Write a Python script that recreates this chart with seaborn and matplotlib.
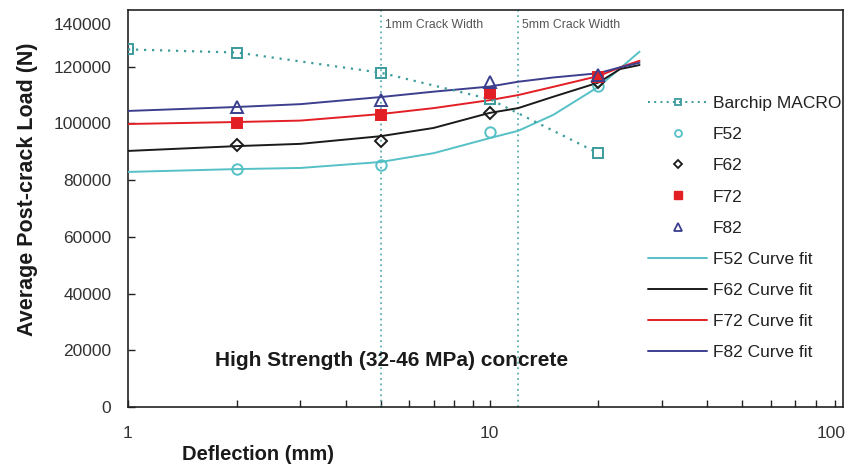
import matplotlib
matplotlib.use("Agg")
import matplotlib.pyplot as plt
from matplotlib.lines import Line2D
from matplotlib.ticker import FixedLocator, NullFormatter
import numpy as np
import seaborn as sns

# ---- data -------------------------------------------------------------
barchip_x = [1, 2, 5, 10, 20]
barchip_y = [126100, 125000, 117900, 108600, 89500]

test_x = [2, 5, 10, 20]
f52_pts = [83800, 85500, 97000, 113200]
f62_pts = [92300, 93900, 103800, 114700]
f72_pts = [100200, 102800, 110600, 116300]
f82_pts = [105700, 108200, 114700, 117000]

fit_x = [1, 2, 3, 5, 7, 10, 12, 15, 20, 23, 26]
f52_fit = [82900, 83900, 84300, 86400, 89500, 94800, 97400, 103000, 112900, 119500, 125300]
f62_fit = [90300, 92000, 92800, 95500, 98400, 103700, 105400, 109400, 114400, 119200, 120600]
f72_fit = [99800, 100500, 101000, 103300, 105400, 108200, 110000, 112900, 116700, 119800, 122100]
f82_fit = [104400, 105800, 106800, 109300, 111200, 113000, 114700, 116200, 117700, 119800, 121400]

crack_x = [5, 12]
crack_labels = ["1mm Crack Width", "5mm Crack Width"]

y_ticks = [0, 20000, 40000, 60000, 80000, 100000, 120000]
x_major = [1, 10]

# ---- style ------------------------------------------------------------
sns.set_style("ticks")
plt.rcParams["font.family"] = ["Liberation Sans", "DejaVu Sans"]

C_BARCHIP = "#3d9c9c"
C_F52 = "#55c0c6"
C_F62 = "#1b1b1b"
C_F72 = "#e31f26"
C_F82 = "#3c3f8e"

fig = plt.figure(figsize=(8.52, 4.67), dpi=100)
ax = fig.add_axes([128 / 852, 60 / 467, 715 / 852, 397 / 467])

# curve fits
for ys, c in [(f52_fit, C_F52), (f62_fit, C_F62), (f72_fit, C_F72), (f82_fit, C_F82)]:
    sns.lineplot(x=fit_x, y=ys, ax=ax, color=c, lw=1.4, sort=False, zorder=3)

# Barchip MACRO reference series
sns.lineplot(x=barchip_x, y=barchip_y, ax=ax, color=C_BARCHIP, lw=1.6,
             linestyle=(0, (1, 2.6)), marker="s", markersize=7,
             markerfacecolor="none", markeredgecolor=C_BARCHIP,
             markeredgewidth=1.4, sort=False, zorder=4)

# measured points
pts = [
    (f52_pts, "o", C_F52, "none", 7.5),
    (f62_pts, "D", C_F62, "none", 6.0),
    (f72_pts, "s", C_F72, C_F72, 6.5),
    (f82_pts, "^", C_F82, "none", 8.0),
]
for ys, m, ec, fc, ms in pts:
    sns.lineplot(x=test_x, y=ys, ax=ax, linestyle="none", marker=m,
                 markersize=ms, markerfacecolor=fc, markeredgecolor=ec,
                 markeredgewidth=1.4, color=ec, sort=False, zorder=5)

# crack width markers
for cx, lab in zip(crack_x, crack_labels):
    ax.axvline(cx, color="#5eaeb2", lw=1.3, linestyle=(0, (1, 2)), zorder=2)
    ax.annotate(lab, xy=(cx, 1), xycoords=("data", "axes fraction"),
                xytext=(3, -11), textcoords="offset points",
                ha="left", va="center", fontsize=8.8, color="#555555")

# axes
ax.set_xscale("log")
ax.set_xlim(1, 95)
ax.set_ylim(0, 140000)
ax.set_xticks(x_major)
ax.set_xticklabels([str(v) for v in x_major])
ax.xaxis.set_minor_locator(FixedLocator(
    [v for d in (1, 10) for v in np.arange(2, 10) * d]))
ax.xaxis.set_minor_formatter(NullFormatter())
ax.set_yticks(y_ticks)
ax.set_yticklabels([str(v) for v in y_ticks])
ax.tick_params(axis="both", which="both", direction="in", colors="#222222",
               labelcolor="#333333", labelsize=12.5, width=1.0)
ax.tick_params(axis="x", which="major", length=5, pad=14)
ax.tick_params(axis="x", which="minor", length=5)
ax.tick_params(axis="y", which="major", length=5, pad=12)
for sp in ax.spines.values():
    sp.set_visible(True)
    sp.set_color("#222222")
    sp.set_linewidth(1.2)
ax.set_xlabel("")
ax.set_ylabel("")

# top y label sits slightly below its gridline position
ax.annotate("140000", xy=(0, 140000), xycoords=("axes fraction", "data"),
            xytext=(-12, -11), textcoords="offset points", ha="right",
            va="center", fontsize=12.5, color="#333333")
ax.annotate("100", xy=(1, 0), xycoords="axes fraction",
            xytext=(2, -14), textcoords="offset points", ha="right",
            va="top", fontsize=12.5, color="#333333")

fig.text(28 / 852, 1 - 189 / 467, "Average Post-crack Load (N)", rotation=90,
         ha="center", va="center", fontsize=15.5, fontweight="bold",
         color="#1a1a1a")
fig.text(258 / 852, 1 - 455 / 467, "Deflection (mm)", ha="center",
         va="center", fontsize=14.5, fontweight="bold", color="#1a1a1a")
ax.text((215 - 128) / 715, (407 - 360) / 397,
        "High Strength (32-46 MPa) concrete", transform=ax.transAxes,
        ha="left", va="center", fontsize=15, fontweight="bold",
        color="#1a1a1a")

# legend
handles = [
    Line2D([], [], color=C_BARCHIP, lw=1.4, linestyle=(0, (1, 2.2)),
           marker="s", markersize=5, markerfacecolor="none",
           markeredgecolor=C_BARCHIP, markeredgewidth=1.3),
    Line2D([], [], linestyle="none", marker="o", markersize=5,
           markerfacecolor="none", markeredgecolor=C_F52, markeredgewidth=1.3),
    Line2D([], [], linestyle="none", marker="D", markersize=4.5,
           markerfacecolor="none", markeredgecolor=C_F62, markeredgewidth=1.3),
    Line2D([], [], linestyle="none", marker="s", markersize=5.5,
           markerfacecolor=C_F72, markeredgecolor=C_F72),
    Line2D([], [], linestyle="none", marker="^", markersize=5.5,
           markerfacecolor="none", markeredgecolor=C_F82, markeredgewidth=1.3),
    Line2D([], [], color=C_F52, lw=1.4),
    Line2D([], [], color=C_F62, lw=1.4),
    Line2D([], [], color=C_F72, lw=1.4),
    Line2D([], [], color=C_F82, lw=1.4),
]
labels = ["Barchip MACRO", "F52", "F62", "F72", "F82",
          "F52 Curve fit", "F62 Curve fit", "F72 Curve fit", "F82 Curve fit"]
leg = ax.legend(handles, labels, loc="upper left",
                bbox_to_anchor=((648 - 128) / 715, (407 - 96) / 397),
                frameon=False, fontsize=12.5, handlelength=3.4,
                handletextpad=0.35, labelspacing=0.92, borderpad=0,
                borderaxespad=0)
for t in leg.get_texts():
    t.set_color("#222222")

fig.savefig("out.png", dpi=100)
